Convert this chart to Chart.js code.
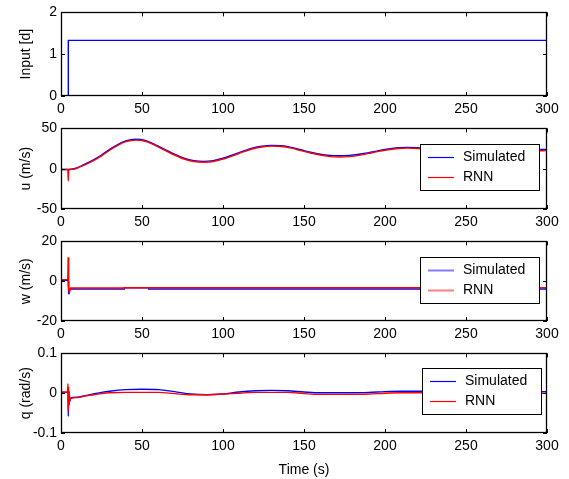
<!DOCTYPE html>
<html>
<head>
<meta charset="utf-8">
<script src="https://cdn.jsdelivr.net/npm/chart.js@4.4.0/dist/chart.umd.min.js"></script>
<style>
  html, body { margin: 0; padding: 0; background: #fff; }
  #wrap { position: relative; width: 569px; height: 479px; }
  #wrap canvas { position: absolute; left: 0; }
</style>
</head>
<body>
<div id="wrap">
  <canvas id="inputChart" width="569" height="116" style="top:0px"></canvas>
  <canvas id="uChart" width="569" height="113" style="top:116px"></canvas>
  <canvas id="wChart" width="569" height="112" style="top:229px"></canvas>
  <canvas id="qChart" width="569" height="138" style="top:341px"></canvas>
</div>
<script>
// --- data ---
const xTicks = [0, 50, 100, 150, 200, 250, 300];
const seriesNames = ['Simulated', 'RNN'];

// input [d]
const inputTime = [0, 4.5, 4.5, 300];
const inputVal = [0, 0, 1.33, 1.33];

// u (m/s)
const uTime = [0, 4.2, 4.5, 4.8, 8, 12, 16, 20, 25, 30, 35, 40, 46, 52, 58, 64, 70, 76, 82, 88, 94,
  100, 106, 112, 118, 124, 130, 136, 142, 148, 154, 160, 166, 172, 178, 184, 190, 196, 202, 208,
  214, 220, 230, 240, 250, 260, 270, 280, 290, 300];
const uSim = [-1, -1, -1, -1, 0, 3, 7, 11, 17, 24, 30, 34.5, 36.5, 35, 30, 24, 18, 13, 10, 9, 10,
  13, 17, 21.5, 25.5, 28, 29, 28.5, 26.5, 23.5, 20.5, 18, 16.5, 16, 16.5, 18, 20, 22.5, 24.5, 26,
  26.5, 26, 24, 21.5, 20, 19.5, 20.5, 22, 23.5, 24];
const uRnn = [-1, -1, -15, -1, -0.5, 2.5, 6, 10, 16, 23, 29, 33.5, 35.5, 34, 29, 23, 17, 12, 9, 8, 9,
  12, 16, 20.5, 24.5, 27, 28, 27.5, 25.5, 22.5, 19.5, 17, 15, 14.5, 15, 16.5, 19, 21.5, 23.5, 25,
  25.5, 25, 23, 20.5, 19, 18.5, 19.5, 21, 22, 22.5];

// w (m/s)
const wTime = [0, 4.2, 4.4, 4.6, 4.9, 5.3, 6, 8, 39, 39.1, 54, 54.1, 300];
const wSim = [0.5, 0.5, 0, -5, -6.5, -4, -3.9, -3.9, -3.9, -3.3, -3.3, -3.9, -3.9];
const wRnn = [0.8, 0.8, 12, -5, -3, -5.5, -3.4, -3.4, -3.4, -3.3, -3.3, -3.3, -3.3];

// q (rad/s)
const qTime = [0, 4, 4.3, 4.5, 4.7, 4.9, 5.1, 5.4, 6, 10, 15, 20, 25, 30, 40, 50, 60, 70, 80, 90,
  100, 110, 120, 130, 140, 150, 160, 170, 180, 190, 200, 210, 220, 240, 260, 280, 300];
const qSim = [0.002, 0.002, 0, -0.058, -0.01, -0.03, -0.015, -0.02, -0.012, -0.01, -0.006, -0.002,
  0.002, 0.005, 0.009, 0.01, 0.009, 0.004, -0.002, -0.004, -0.002, 0.003, 0.006, 0.007, 0.006,
  0.003, 0.001, 0.001, 0.001, 0.002, 0.004, 0.005, 0.005, 0.005, 0.004, 0.004, 0.004];
const qRnn = [0.003, 0.003, 0.024, -0.045, 0.015, -0.03, 0.005, -0.02, -0.013, -0.011, -0.007,
  -0.004, -0.001, 0.001, 0.002, 0.002, 0.002, -0.001, -0.004, -0.004, -0.002, 0, 0.002, 0.002,
  0.002, -0.001, -0.003, -0.003, -0.003, -0.002, 0, 0.001, 0.001, 0.001, 0.001, 0, 0];

const FONT = 'Liberation Sans, Arial, Helvetica, sans-serif';

// MATLAB style frame: box, inward ticks on all four sides, boxed legend
const matlabFrame = {
  id: 'matlabFrame',
  afterDatasetsDraw(chart, args, opts) {
    const { ctx, chartArea: a, scales: { x, y } } = chart;
    ctx.save();
    ctx.strokeStyle = '#000';
    ctx.lineWidth = 1;
    ctx.beginPath();
    x.ticks.forEach(t => {
      const px = Math.round(x.getPixelForValue(t.value)) + 0.5;
      ctx.moveTo(px, a.bottom); ctx.lineTo(px, a.bottom - 4);
      ctx.moveTo(px, a.top); ctx.lineTo(px, a.top + 4);
    });
    y.ticks.forEach(t => {
      const py = Math.round(y.getPixelForValue(t.value)) + 0.5;
      ctx.moveTo(a.left, py); ctx.lineTo(a.left + 4, py);
      ctx.moveTo(a.right, py); ctx.lineTo(a.right - 4, py);
    });
    ctx.stroke();
    ctx.lineWidth = 1.3;
    ctx.strokeRect(Math.round(a.left) + 0.5, Math.round(a.top) + 0.5,
      Math.round(a.width) - 1, Math.round(a.height) - 1);

    const L = opts.legend;
    if (L) {
      const bx = Math.round(a.right - L.right - L.width);
      const by = Math.round(a.top + L.top);
      ctx.fillStyle = '#fff';
      ctx.fillRect(bx, by, L.width, L.height);
      ctx.strokeStyle = '#000';
      ctx.lineWidth = 1;
      ctx.strokeRect(bx + 0.5, by + 0.5, L.width, L.height);
      ctx.font = '14px ' + FONT;
      ctx.textBaseline = 'middle';
      chart.data.datasets.forEach((ds, i) => {
        const ry = by + 13 + i * 20;
        ctx.strokeStyle = L.colors[i];
        ctx.lineWidth = L.lineWidth;
        ctx.beginPath();
        ctx.moveTo(bx + 8, ry + 0.5);
        ctx.lineTo(bx + 34, ry + 0.5);
        ctx.stroke();
        ctx.fillStyle = '#000';
        ctx.fillText(ds.label, bx + 43, ry);
      });
    }
    ctx.restore();
  }
};

function pts(times, vals) {
  return times.map((t, i) => ({ x: t, y: vals[i] }));
}

function makePanel(id, cfg) {
  const datasets = cfg.series.map(s => ({
    label: s.label,
    data: pts(s.time, s.values),
    borderColor: s.color,
    borderWidth: 1.4,
    pointRadius: 0,
    tension: 0,
    cubicInterpolationMode: cfg.smooth ? 'monotone' : 'default',
    order: s.order
  }));
  return new Chart(document.getElementById(id), {
    type: 'line',
    data: { datasets },
    options: {
      responsive: false,
      animation: false,
      events: [],
      layout: { padding: { top: cfg.padTop, right: 22, left: 0, bottom: 0 } },
      plugins: {
        legend: { display: false },
        tooltip: { enabled: false },
        matlabFrame: { legend: cfg.legend }
      },
      scales: {
        x: {
          type: 'linear',
          min: 0, max: 300,
          afterBuildTicks: s => { s.ticks = xTicks.map(v => ({ value: v })); },
          grid: { display: false, drawTicks: false },
          border: { display: false },
          ticks: { color: '#000', font: { family: FONT, size: 14 }, padding: 5, maxRotation: 0 },
          title: {
            display: !!cfg.xTitle, text: cfg.xTitle || '', color: '#000',
            font: { family: FONT, size: 14 }, padding: { top: 0, bottom: 0 }
          },
          afterFit: s => { s.height = cfg.xAxisH; }
        },
        y: {
          min: cfg.yMin, max: cfg.yMax,
          afterBuildTicks: s => { s.ticks = cfg.yTicks.map(v => ({ value: v })); },
          grid: { display: false, drawTicks: false },
          border: { display: false },
          ticks: { color: '#000', font: { family: FONT, size: 14 }, padding: 4, callback: v => String(v) },
          title: {
            display: true, text: cfg.yTitle, color: '#000',
            font: { family: FONT, size: 14 }, padding: { top: 18, bottom: 0 }
          },
          afterFit: s => { s.width = 61; }
        }
      }
    },
    plugins: [matlabFrame]
  });
}

const legendLines = { right: 8, top: 16, width: 119, height: 46, lineWidth: 1.2, colors: ['#0000ff', '#ff0000'] };

makePanel('inputChart', {
  padTop: 11, xAxisH: 20, yMin: 0, yMax: 2, yTicks: [0, 1, 2], yTitle: 'Input [d]',
  series: [{ label: 'Input', time: inputTime, values: inputVal, color: '#0000ff', order: 0 }]
});

makePanel('uChart', {
  padTop: 8, xAxisH: 20, yMin: -50, yMax: 50, yTicks: [-50, 0, 50], yTitle: 'u (m/s)', smooth: true,
  legend: legendLines,
  series: [
    { label: seriesNames[0], time: uTime, values: uSim, color: '#0000ff', order: 1 },
    { label: seriesNames[1], time: uTime, values: uRnn, color: '#ff0000', order: 0 }
  ]
});

makePanel('wChart', {
  padTop: 7, xAxisH: 20, yMin: -20, yMax: 20, yTicks: [-20, 0, 20], yTitle: 'w (m/s)',
  legend: Object.assign({}, legendLines, { lineWidth: 2, colors: ['#8080ff', '#ff8080'] }),
  series: [
    { label: seriesNames[0], time: wTime, values: wSim, color: '#0000ff', order: 1 },
    { label: seriesNames[1], time: wTime, values: wRnn, color: '#ff0000', order: 0 }
  ]
});

makePanel('qChart', {
  padTop: 8, xAxisH: 46, yMin: -0.1, yMax: 0.1, yTicks: [-0.1, 0, 0.1], yTitle: 'q (rad/s)',
  xTitle: 'Time (s)', smooth: true,
  legend: Object.assign({}, legendLines, { right: 6, top: 15 }),
  series: [
    { label: seriesNames[0], time: qTime, values: qSim, color: '#0000ff', order: 1 },
    { label: seriesNames[1], time: qTime, values: qRnn, color: '#ff0000', order: 0 }
  ]
});
</script>
</body>
</html>
